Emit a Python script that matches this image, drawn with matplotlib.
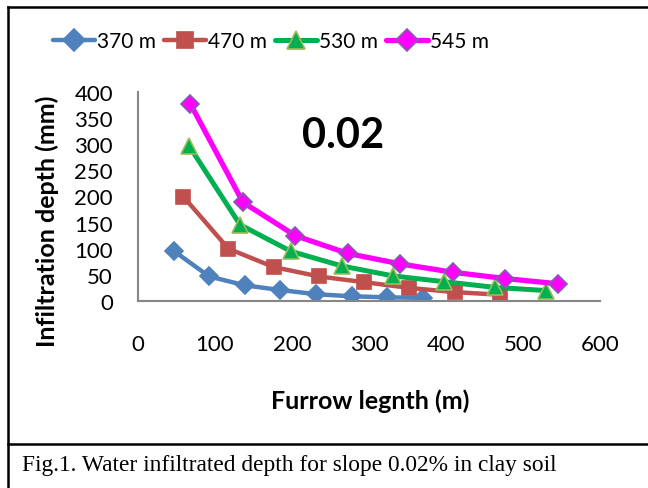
import numpy as np
import matplotlib
matplotlib.use('Agg')
import matplotlib.pyplot as plt
from matplotlib.lines import Line2D

plt.rcParams['font.family'] = ['Lato', 'DejaVu Sans']

# data (8 points per furrow length, spaced L/8)
lengths = [370, 470, 530, 545]
labels = ['370 m', '470 m', '530 m', '545 m']
depth_370 = [96, 47, 30, 21, 13, 9, 7, 6]
depth_470 = [200, 100, 65, 47, 36, 25, 17, 12]
depth_530 = [297, 146, 95, 67, 48, 37, 26, 20]
depth_545 = [377, 189, 125, 91, 71, 55, 43, 33]
depths = [depth_370, depth_470, depth_530, depth_545]

colors = ['#4F81BD', '#C0504D', '#00B050', '#FF00FF']
edges = ['#4F81BD', '#C0504D', '#9BBB59', '#7F5FA8']
markers = ['D', 's', '^', 'D']
msizes = [9.5, 10.5, 11.5, 9.5]
lwidths = [3.2, 3.2, 3.6, 3.8]

W, H = 648, 489
fig = plt.figure(figsize=(W / 100, H / 100), dpi=100)

# axes box in pixels: x 138..600, y 93..302
ax = fig.add_axes([138 / W, 1 - 302 / H, (600 - 138) / W, (302 - 93) / H])

for L, d, c, e, m, ms, lw, lab in zip(lengths, depths, colors, edges, markers, msizes, lwidths, labels):
    x = [L / 8 * (k + 1) for k in range(len(d))]
    ax.plot(x, d, color=c, lw=lw, marker=m, ms=ms, mfc=c, mec=e, mew=1.2,
            label=lab, solid_capstyle='round')

ax.set_xlim(0, 600)
ax.set_ylim(0, 400)
ax.set_xticks(range(0, 601, 100))
ax.set_yticks(range(0, 401, 50))
ax.tick_params(length=0, labelsize=16)
ax.tick_params(axis='x', pad=24)
ax.tick_params(axis='y', pad=18)
for s in ['top', 'right']:
    ax.spines[s].set_visible(False)
for s in ['left', 'bottom']:
    ax.spines[s].set_color('#868686')
    ax.spines[s].set_linewidth(1.5)
ax.patch.set_alpha(0)

fig.text(343 / W, 1 - 136 / H, '0.02', fontsize=30, fontweight='bold', ha='center', va='center')

fig.text(370 / W, 1 - 401 / H, 'Furrow legnth (m)', fontsize=18, fontweight='bold',
         ha='center', va='center')
fig.text(47 / W, 1 - 221 / H, 'Infiltration depth (mm)', fontsize=18, fontweight='bold',
         ha='center', va='center', rotation=90)

fig.legend(loc='center', bbox_to_anchor=(271 / W, 1 - 42 / H), ncol=4, frameon=False,
           fontsize=15, markerscale=1.15, handlelength=2.0, handletextpad=0.1,
           columnspacing=0.4)

fig.text(22 / W, 1 - 466 / H, 'Fig.1. Water infiltrated depth for slope 0.02% in clay soil',
         fontsize=16.8, family='Liberation Serif', ha='left', va='center')

# frame lines
lw_frame = 1.8
fig.add_artist(Line2D([7.5 / W, 7.5 / W], [0, 1 - 8 / H], transform=fig.transFigure,
                      color='black', lw=lw_frame))
fig.add_artist(Line2D([7.5 / W, 1], [1 - 8 / H, 1 - 8 / H], transform=fig.transFigure,
                      color='black', lw=lw_frame))
fig.add_artist(Line2D([7.5 / W, 1], [1 - 445 / H, 1 - 445 / H], transform=fig.transFigure,
                      color='black', lw=lw_frame))

fig.savefig('out.png', dpi=100)
